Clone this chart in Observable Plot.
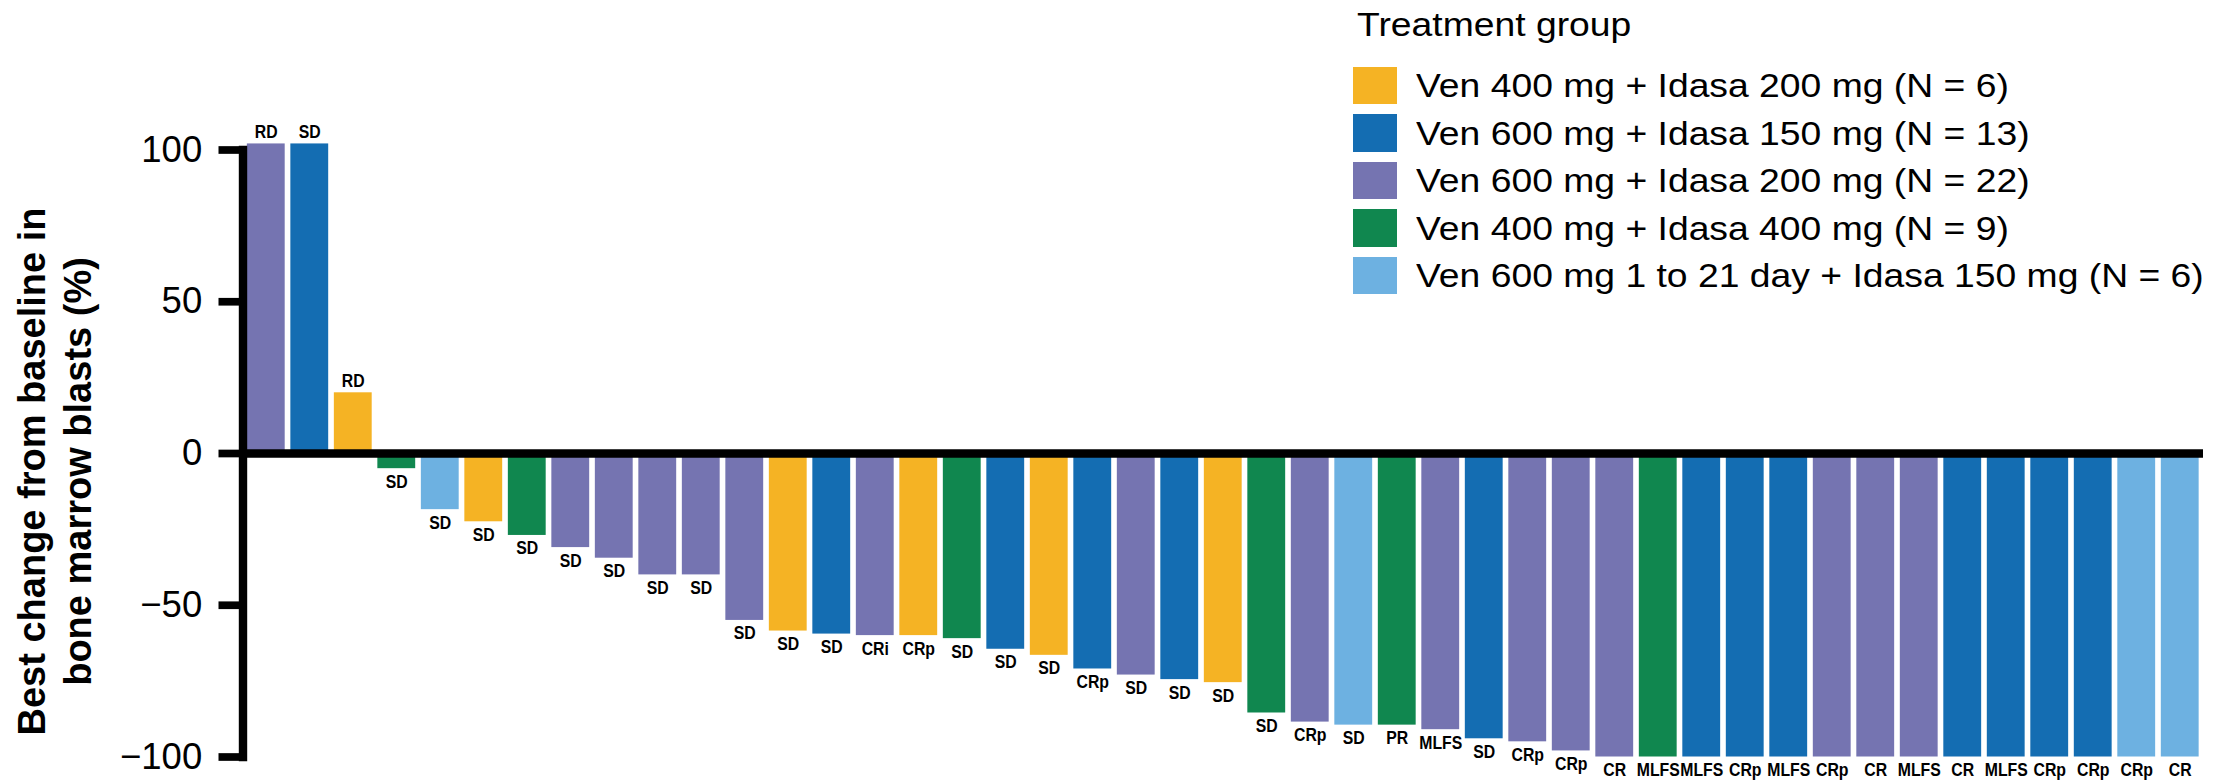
<!DOCTYPE html>
<html>
<head>
<meta charset="utf-8">
<script src="https://cdn.jsdelivr.net/npm/d3@7"></script>
<script src="https://cdn.jsdelivr.net/npm/@observablehq/plot@0.6"></script>
<style>
  html, body { margin: 0; padding: 0; background: #fff; }
  #wrap { position: relative; width: 2231px; height: 781px; overflow: hidden;
          font-family: "Liberation Sans", Arial, sans-serif; color: #000; }
  #chart { position: absolute; left: 0; top: 0; }
  .lg-title, .lg-text { position: absolute; font-size: 33px; line-height: 33px; white-space: nowrap;
                        transform: scaleX(1.13); transform-origin: left center; }
  .lg-swatch { position: absolute; width: 44px; height: 37.5px; }
</style>
</head>
<body>
<div id="wrap">
  <div id="chart"></div>
  <div id="legend"></div>
</div>
<script>
// Treatment groups and their colours
const groups = [
  "Ven 400 mg + Idasa 200 mg (N = 6)",
  "Ven 600 mg + Idasa 150 mg (N = 13)",
  "Ven 600 mg + Idasa 200 mg (N = 22)",
  "Ven 400 mg + Idasa 400 mg (N = 9)",
  "Ven 600 mg 1 to 21 day + Idasa 150 mg (N = 6)"
];
const groupColors = ["#F5B324", "#146DB2", "#7574B1", "#10874F", "#6DB1E1"];

// One entry per patient, ordered by best change in bone marrow blasts
const patientGroup = [
  2, 1, 0, 3, 4, 0, 3, 2, 2, 2, 2, 2, 0, 1, 2, 0, 3, 1, 0, 1, 2, 1, 0,
  3, 2, 4, 3, 2, 1, 2, 2, 2, 3, 1, 1, 1, 2, 2, 2, 1, 1, 1, 1, 4, 4
];
const bestChange = [
  102, 102, 20, -5, -18.5, -22.5, -27, -31, -34.5, -40, -40, -55, -58.5, -59.5,
  -60, -60, -61, -64.5, -66.5, -71, -73, -74.5, -75.5, -85.5, -88.5, -89.5,
  -89.5, -91, -94, -95, -98, -100, -100, -100, -100, -100, -100, -100, -100,
  -100, -100, -100, -100, -100, -100
];
const bestResponse = [
  "RD", "SD", "RD", "SD", "SD", "SD", "SD", "SD", "SD", "SD", "SD", "SD", "SD",
  "SD", "CRi", "CRp", "SD", "SD", "SD", "CRp", "SD", "SD", "SD", "SD", "CRp",
  "SD", "PR", "MLFS", "SD", "CRp", "CRp", "CR", "MLFS", "MLFS", "CRp", "MLFS",
  "CRp", "CR", "MLFS", "CR", "MLFS", "CRp", "CRp", "CRp", "CR"
];
const yTicks = [-100, -50, 0, 50, 100];
const yTitle = "Best change from baseline in\nbone marrow blasts (%)";
const legendTitle = "Treatment group";

const patients = bestChange.map((v, i) => ({
  i, change: v, group: groups[patientGroup[i]], response: bestResponse[i]
}));
const rising = patients.filter(d => d.change >= 0);
const falling = patients.filter(d => d.change < 0);

const chart = Plot.plot({
  width: 2231,
  height: 781,
  marginLeft: 242.5,
  marginRight: 28,
  marginTop: 149.5,
  marginBottom: 24.5,
  style: { fontFamily: "'Liberation Sans', Arial, sans-serif", background: "white", color: "black", overflow: "visible" },
  x: { type: "band", domain: d3.range(patients.length), paddingInner: 0.13, paddingOuter: 0.1, round: false, axis: null },
  y: { domain: [-100, 100] },
  color: { domain: groups, range: groupColors },
  marks: [
    Plot.barY(patients, { x: "i", y: "change", fill: "group" }),
    Plot.ruleY([0], { stroke: "black", strokeWidth: 8.3 }),
    Plot.frame({ anchor: "left", stroke: "black", strokeWidth: 8.4, strokeLinecap: "square" }),
    Plot.axisY(yTicks, {
      label: null, tickSize: 24, tickPadding: 16.8, strokeWidth: 7.7,
      fontSize: 36.5, fill: "black", stroke: "black"
    }),
    // best overall response above / below each bar
    Plot.text(rising, { x: "i", y: "change", text: "response", dy: -12, fontSize: 18.6, fontWeight: "bold", fill: "black" }),
    Plot.text(falling, { x: "i", y: "change", text: "response", dy: 13, fontSize: 18.6, fontWeight: "bold", fill: "black" }),
    // y axis title, two lines
    Plot.text([yTitle], {
      text: d => d, frameAnchor: "left", textAnchor: "middle", rotate: -90, dx: -190, dy: 18,
      fontSize: 38, fontWeight: "bold", lineHeight: 1.23, fill: "black"
    })
  ]
});
document.getElementById("chart").appendChild(chart);

// condense the response labels horizontally
chart.querySelectorAll('g[font-size="18.6"] text').forEach(t => {
  const w = t.getComputedTextLength();
  t.setAttribute("textLength", (w * 0.85).toFixed(2));
  t.setAttribute("lengthAdjust", "spacingAndGlyphs");
});

// legend
const legend = document.getElementById("legend");
const title = document.createElement("div");
title.className = "lg-title";
title.style.left = "1357px";
title.style.top = "8px";
title.textContent = legendTitle;
legend.appendChild(title);
groups.forEach((g, k) => {
  const sw = document.createElement("div");
  sw.className = "lg-swatch";
  sw.style.left = "1353px";
  sw.style.top = (66.5 + k * 47.5) + "px";
  sw.style.background = groupColors[k];
  legend.appendChild(sw);
  const tx = document.createElement("div");
  tx.className = "lg-text";
  tx.style.left = "1416px";
  tx.style.top = (69 + k * 47.5) + "px";
  tx.textContent = g;
  legend.appendChild(tx);
});
</script>
</body>
</html>
